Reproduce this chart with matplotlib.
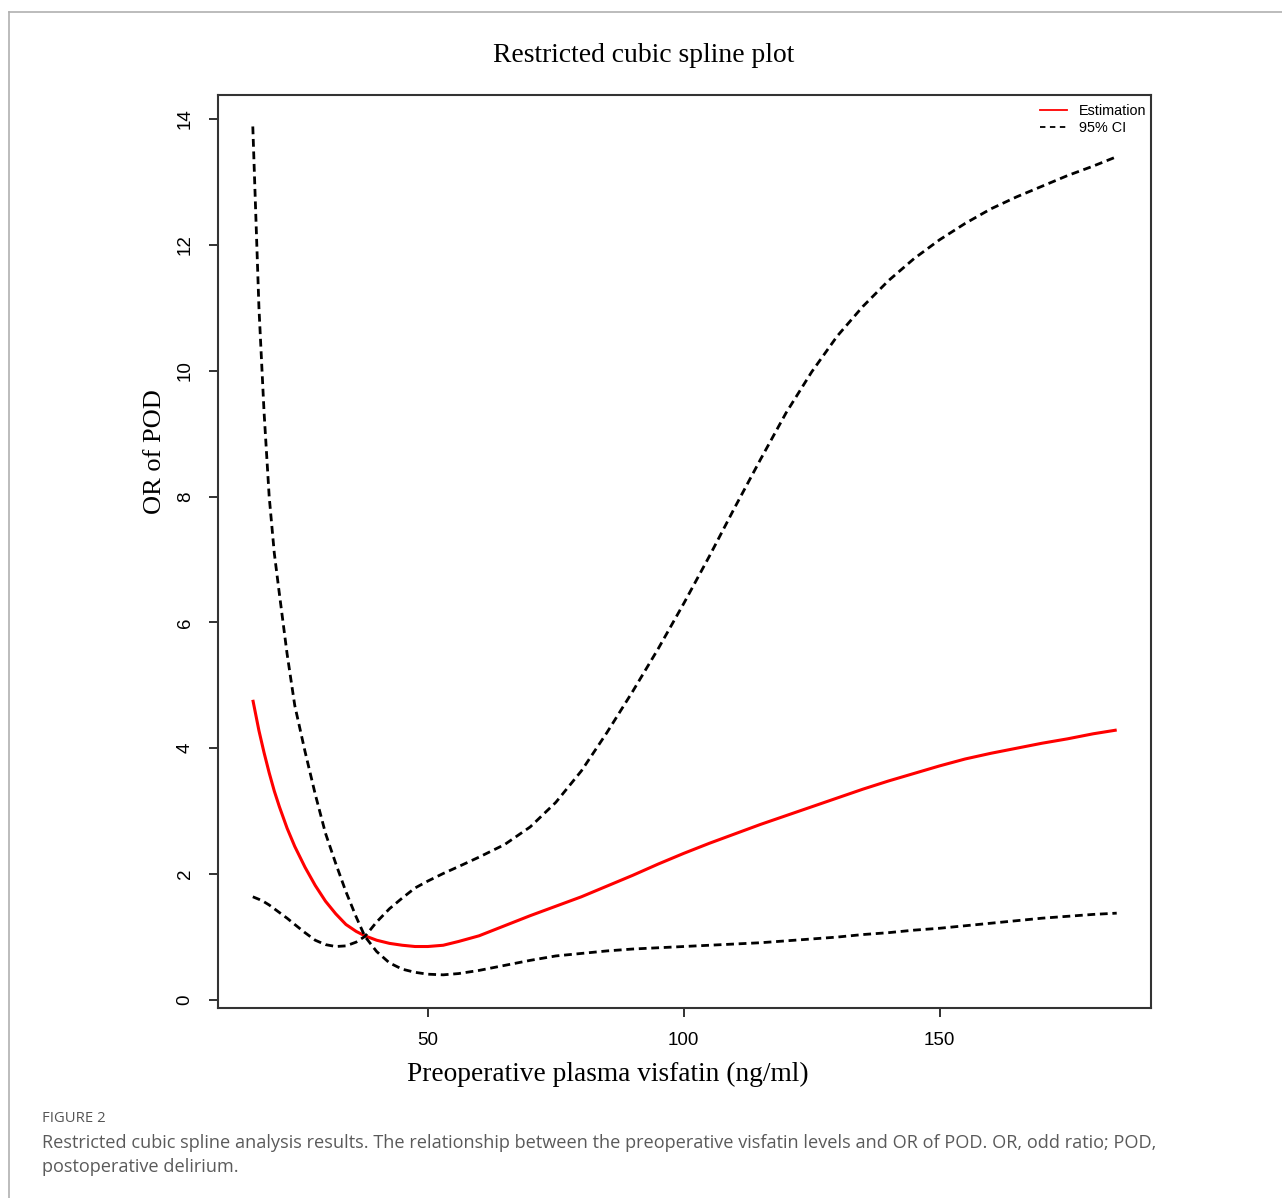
import matplotlib
matplotlib.use("Agg")
import matplotlib.pyplot as plt
from matplotlib.lines import Line2D

# visfatin (ng/ml)
visfatin = [15.8, 17, 18, 19, 20, 21, 22.5, 24, 26, 28, 30, 32, 34, 36, 37.7,
            40, 42.5, 45, 47.5, 50, 53, 56, 60, 65, 70, 75, 80, 85, 90, 95,
            100, 105, 110, 115, 120, 125, 130, 135, 140, 145, 150, 155, 160,
            165, 170, 175, 180, 184.6]

# OR estimate (red curve)
or_est = [4.77, 4.28, 3.93, 3.61, 3.32, 3.07, 2.73, 2.44, 2.11, 1.82, 1.57,
          1.37, 1.20, 1.09, 1.02, 0.95, 0.90, 0.87, 0.85, 0.85, 0.87, 0.93,
          1.02, 1.18, 1.34, 1.49, 1.64, 1.81, 1.98, 2.16, 2.33, 2.49, 2.64,
          2.79, 2.93, 3.07, 3.21, 3.35, 3.48, 3.60, 3.72, 3.83, 3.92, 4.00,
          4.08, 4.15, 4.23, 4.29]

# dashed CI line that starts high and ends low
ci_line_a = [13.88, 11.0, 9.34, 8.0, 7.1, 6.45, 5.5, 4.68, 3.95, 3.27, 2.65,
             2.17, 1.72, 1.32, 1.01, 0.77, 0.59, 0.49, 0.44, 0.41, 0.40, 0.42,
             0.47, 0.55, 0.63, 0.70, 0.74, 0.78, 0.81, 0.83, 0.85, 0.87, 0.89,
             0.91, 0.94, 0.97, 1.00, 1.04, 1.07, 1.11, 1.14, 1.18, 1.22, 1.26,
             1.30, 1.33, 1.36, 1.38]

# dashed CI line that starts low and ends high
ci_line_b = [1.64, 1.60, 1.56, 1.51, 1.45, 1.39, 1.30, 1.20, 1.07, 0.95, 0.88,
             0.85, 0.86, 0.92, 1.01, 1.24, 1.45, 1.62, 1.78, 1.89, 2.01, 2.12,
             2.27, 2.47, 2.75, 3.14, 3.64, 4.25, 4.90, 5.58, 6.30, 7.05, 7.83,
             8.59, 9.33, 9.98, 10.55, 11.02, 11.43, 11.78, 12.08, 12.34, 12.57,
             12.76, 12.93, 13.10, 13.25, 13.40]

x_ticks = [50, 100, 150]
y_ticks = [0, 2, 4, 6, 8, 10, 12, 14]

W, H = 1282, 1198
fig = plt.figure(figsize=(W / 100, H / 100), dpi=100)

# card border (top and left only)
fig.add_artist(Line2D([9 / W, 1], [1 - 12 / H, 1 - 12 / H], transform=fig.transFigure,
                      color="#b0b0b0", lw=1.2))
fig.add_artist(Line2D([9 / W, 9 / W], [0, 1 - 12 / H], transform=fig.transFigure,
                      color="#b0b0b0", lw=1.2))

ax = fig.add_axes([218 / W, 1 - 1008 / H, (1151 - 218) / W, (1008 - 95) / H])

ax.plot(visfatin, or_est, color="red", lw=2.2, solid_capstyle="butt")
ax.plot(visfatin, ci_line_a, color="black", lw=2.0, dashes=(2.8, 1.7))
ax.plot(visfatin, ci_line_b, color="black", lw=2.0, dashes=(2.8, 1.7))

ax.set_xlim(9.0, 191.3)
ax.set_ylim(-0.127, 14.38)
ax.set_xticks(x_ticks)
ax.set_yticks(y_ticks)

for s in ax.spines.values():
    s.set_linewidth(1.5)
    s.set_color("#333333")

tick_font = {"family": "Liberation Sans", "size": 13.5}
ax.tick_params(axis="both", length=6.5, width=1.3, color="#222222")
ax.tick_params(axis="x", pad=11)
ax.tick_params(axis="y", pad=11)
ax.set_xticklabels([str(t) for t in x_ticks], fontdict=tick_font)
ax.set_yticklabels([str(t) for t in y_ticks], fontdict=tick_font,
                   rotation=90, va="center")

serif = "Liberation Serif"
ax.set_xlabel("Preoperative plasma visfatin (ng/ml)", family=serif, fontsize=19.7)
ax.xaxis.set_label_coords((608 - 218) / 933, (1008 - 1074) / 913)
ax.xaxis.label.set_va("center")
ax.set_ylabel("OR of POD", family=serif, fontsize=19)
ax.yaxis.set_label_coords((155 - 218) / 933, (1008 - 452) / 913)
ax.yaxis.label.set_va("center")

fig.text(644 / W, 1 - 55 / H, "Restricted cubic spline plot", family=serif,
         fontsize=19.9, ha="center", va="center")

handles = [Line2D([], [], color="red", lw=1.3),
           Line2D([], [], color="black", lw=1.3, dashes=(3, 2.5))]
ax.legend(handles, ["Estimation", "95% CI"], loc="upper right",
          bbox_to_anchor=(1.005, 1.0), frameon=False, borderaxespad=0.35,
          borderpad=0.3, handlelength=1.9, handletextpad=0.8, labelspacing=0.2,
          prop={"family": "Liberation Sans", "size": 10.4})

# caption
cap_font = "Open Sans"
fig.text(42 / W, 1 - 1118 / H, "FIGURE 2", family=cap_font, fontsize=10.7,
         color="#555555", ha="left", va="center")
fig.text(42 / W, 1 - 1143 / H,
         "Restricted cubic spline analysis results. The relationship between the "
         "preoperative visfatin levels and OR of POD. OR, odd ratio; POD,",
         family=cap_font, fontsize=13.1, color="#5a5a5a", ha="left", va="center")
fig.text(42 / W, 1 - 1167 / H, "postoperative delirium.", family=cap_font,
         fontsize=13.1, color="#5a5a5a", ha="left", va="center")

fig.savefig("out.png", dpi=100)
